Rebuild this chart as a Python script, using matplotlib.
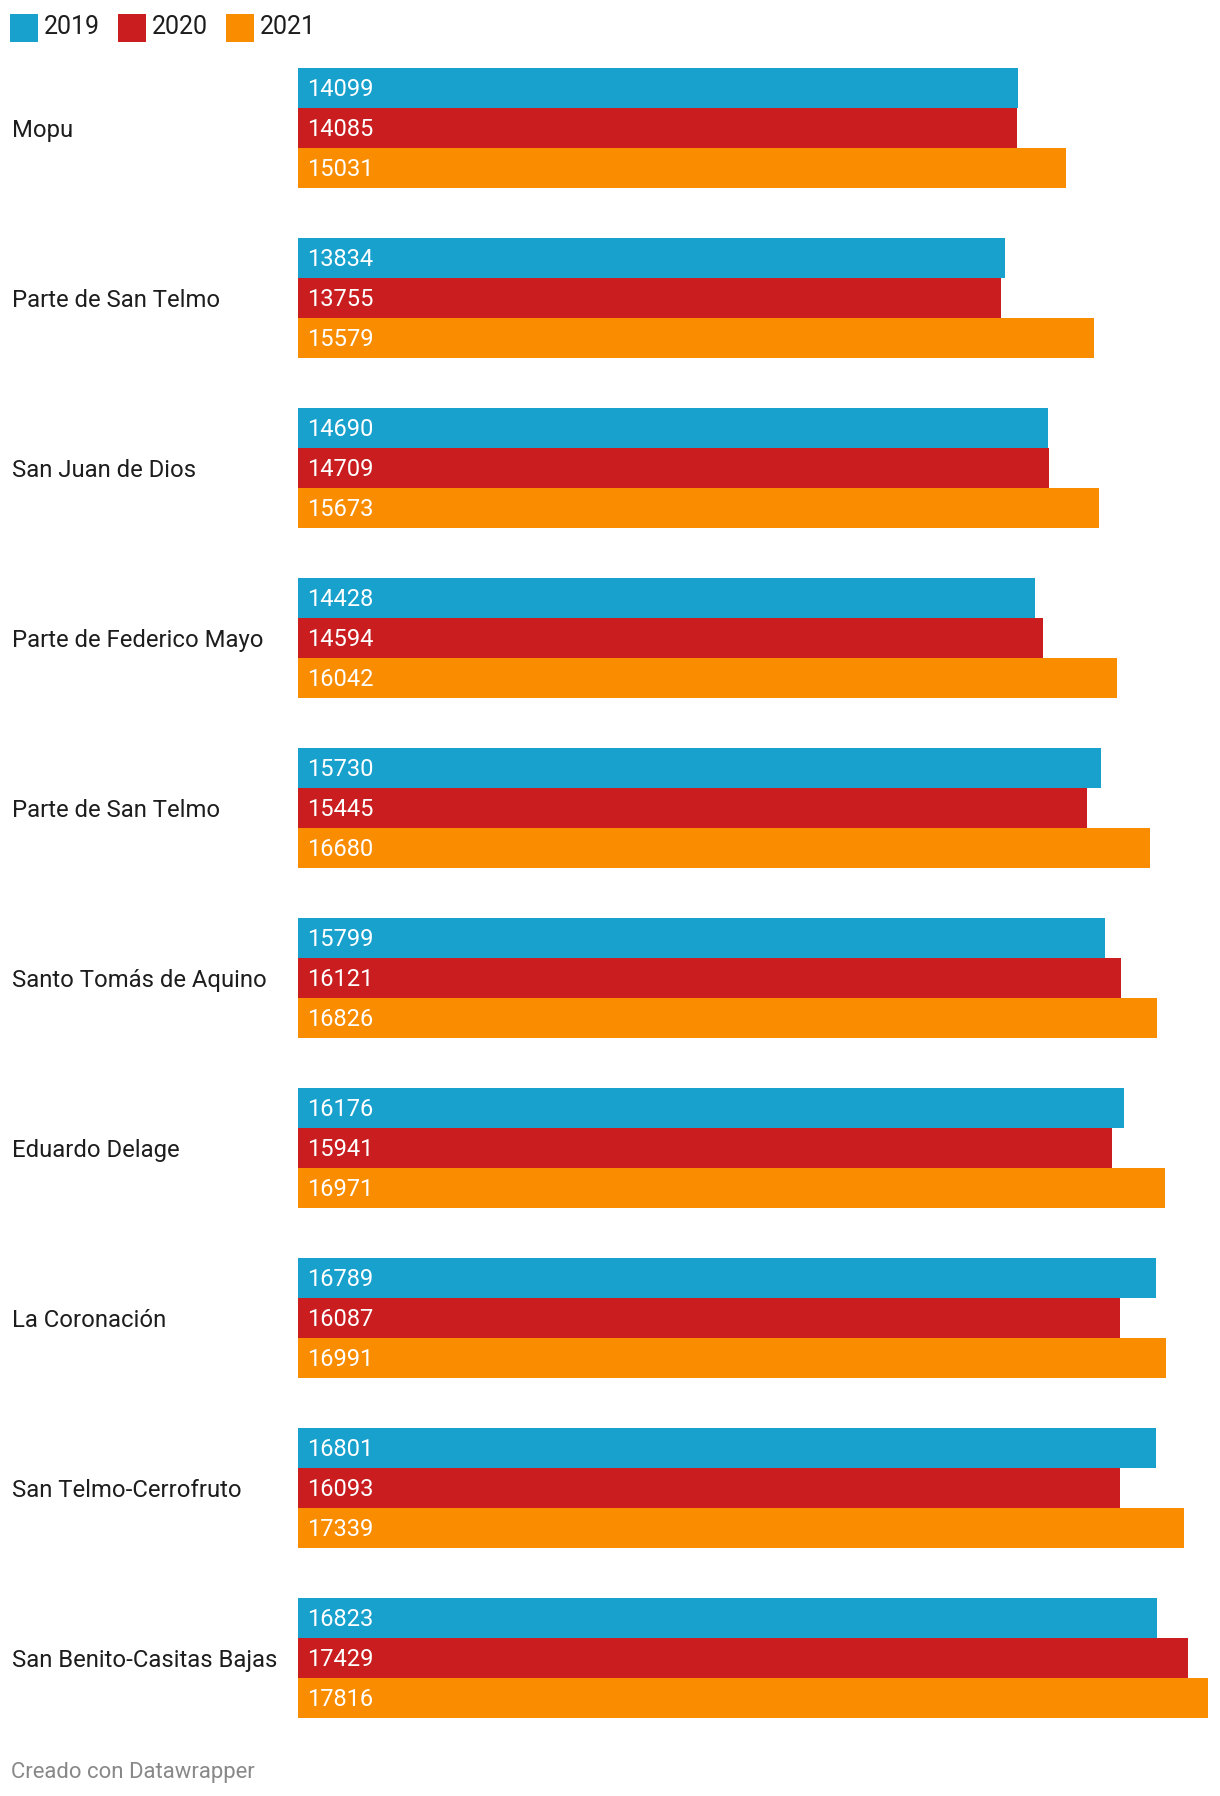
import numpy as np
import matplotlib
matplotlib.use("Agg")
from matplotlib import pyplot as plt
from matplotlib.patches import Rectangle
from matplotlib.transforms import blended_transform_factory, offset_copy

plt.rcParams['font.family'] = ['Roboto', 'DejaVu Sans']

# data
barrios = ["Mopu", "Parte de San Telmo", "San Juan de Dios", "Parte de Federico Mayo",
           "Parte de San Telmo", "Santo Tomás de Aquino", "Eduardo Delage",
           "La Coronación", "San Telmo-Cerrofruto", "San Benito-Casitas Bajas"]
years = ["2019", "2020", "2021"]
v2019 = [14099, 13834, 14690, 14428, 15730, 15799, 16176, 16789, 16801, 16823]
v2020 = [14085, 13755, 14709, 14594, 15445, 16121, 15941, 16087, 16093, 17429]
v2021 = [15031, 15579, 15673, 16042, 16680, 16826, 16971, 16991, 17339, 17816]
colors = ["#18a1cd", "#c91d1f", "#fa8c00"]

W, H = 1220, 1796
fig = plt.figure(figsize=(W / 100, H / 100), dpi=100)

# axes placed in pixel terms
x0, x1 = 298, 1208
y_top, y_bot = 68, 1718
ax = fig.add_axes([x0 / W, 1 - y_bot / H, (x1 - x0) / W, (y_bot - y_top) / H])

n = len(barrios)
y = np.arange(n)
h = 40 / 170.0
series = [v2019, v2020, v2021]
lab_tr = offset_copy(ax.transData, fig, x=9, y=1, units='dots')
for k, vals in enumerate(series):
    pos = y + (k - 1) * h
    ax.barh(pos, vals, height=h, color=colors[k], linewidth=0)
    for p, v in zip(pos, vals):
        ax.text(0, p, str(v), color="white", fontsize=17, va="center_baseline",
                ha="left", transform=lab_tr)

ax.set_xlim(0, max(v2021))
ax.set_ylim(n - 1 + 1.5 * h, -1.5 * h)
ax.axis("off")

# category labels
tr = blended_transform_factory(fig.transFigure, ax.transData)
for i, name in enumerate(barrios):
    ax.text(12 / W, y[i], name, transform=tr, fontsize=17.2, color="#1d1d1d",
            va="center_baseline", ha="left")

# legend
lx = [10, 118, 226]
for k, yr in enumerate(years):
    fig.patches.append(Rectangle((lx[k] / W, 1 - 42 / H), 28 / W, 28 / H,
                                 transform=fig.transFigure, color=colors[k], linewidth=0))
    fig.text((lx[k] + 34) / W, 1 - 25 / H, yr, fontsize=18, color="#1d1d1d",
             va="center_baseline", ha="left")

fig.text(11 / W, 1 - 1770 / H, "Creado con Datawrapper", fontsize=15.9, color="#888888",
         va="center_baseline", ha="left")

fig.savefig("out.png", dpi=100, facecolor="white")
